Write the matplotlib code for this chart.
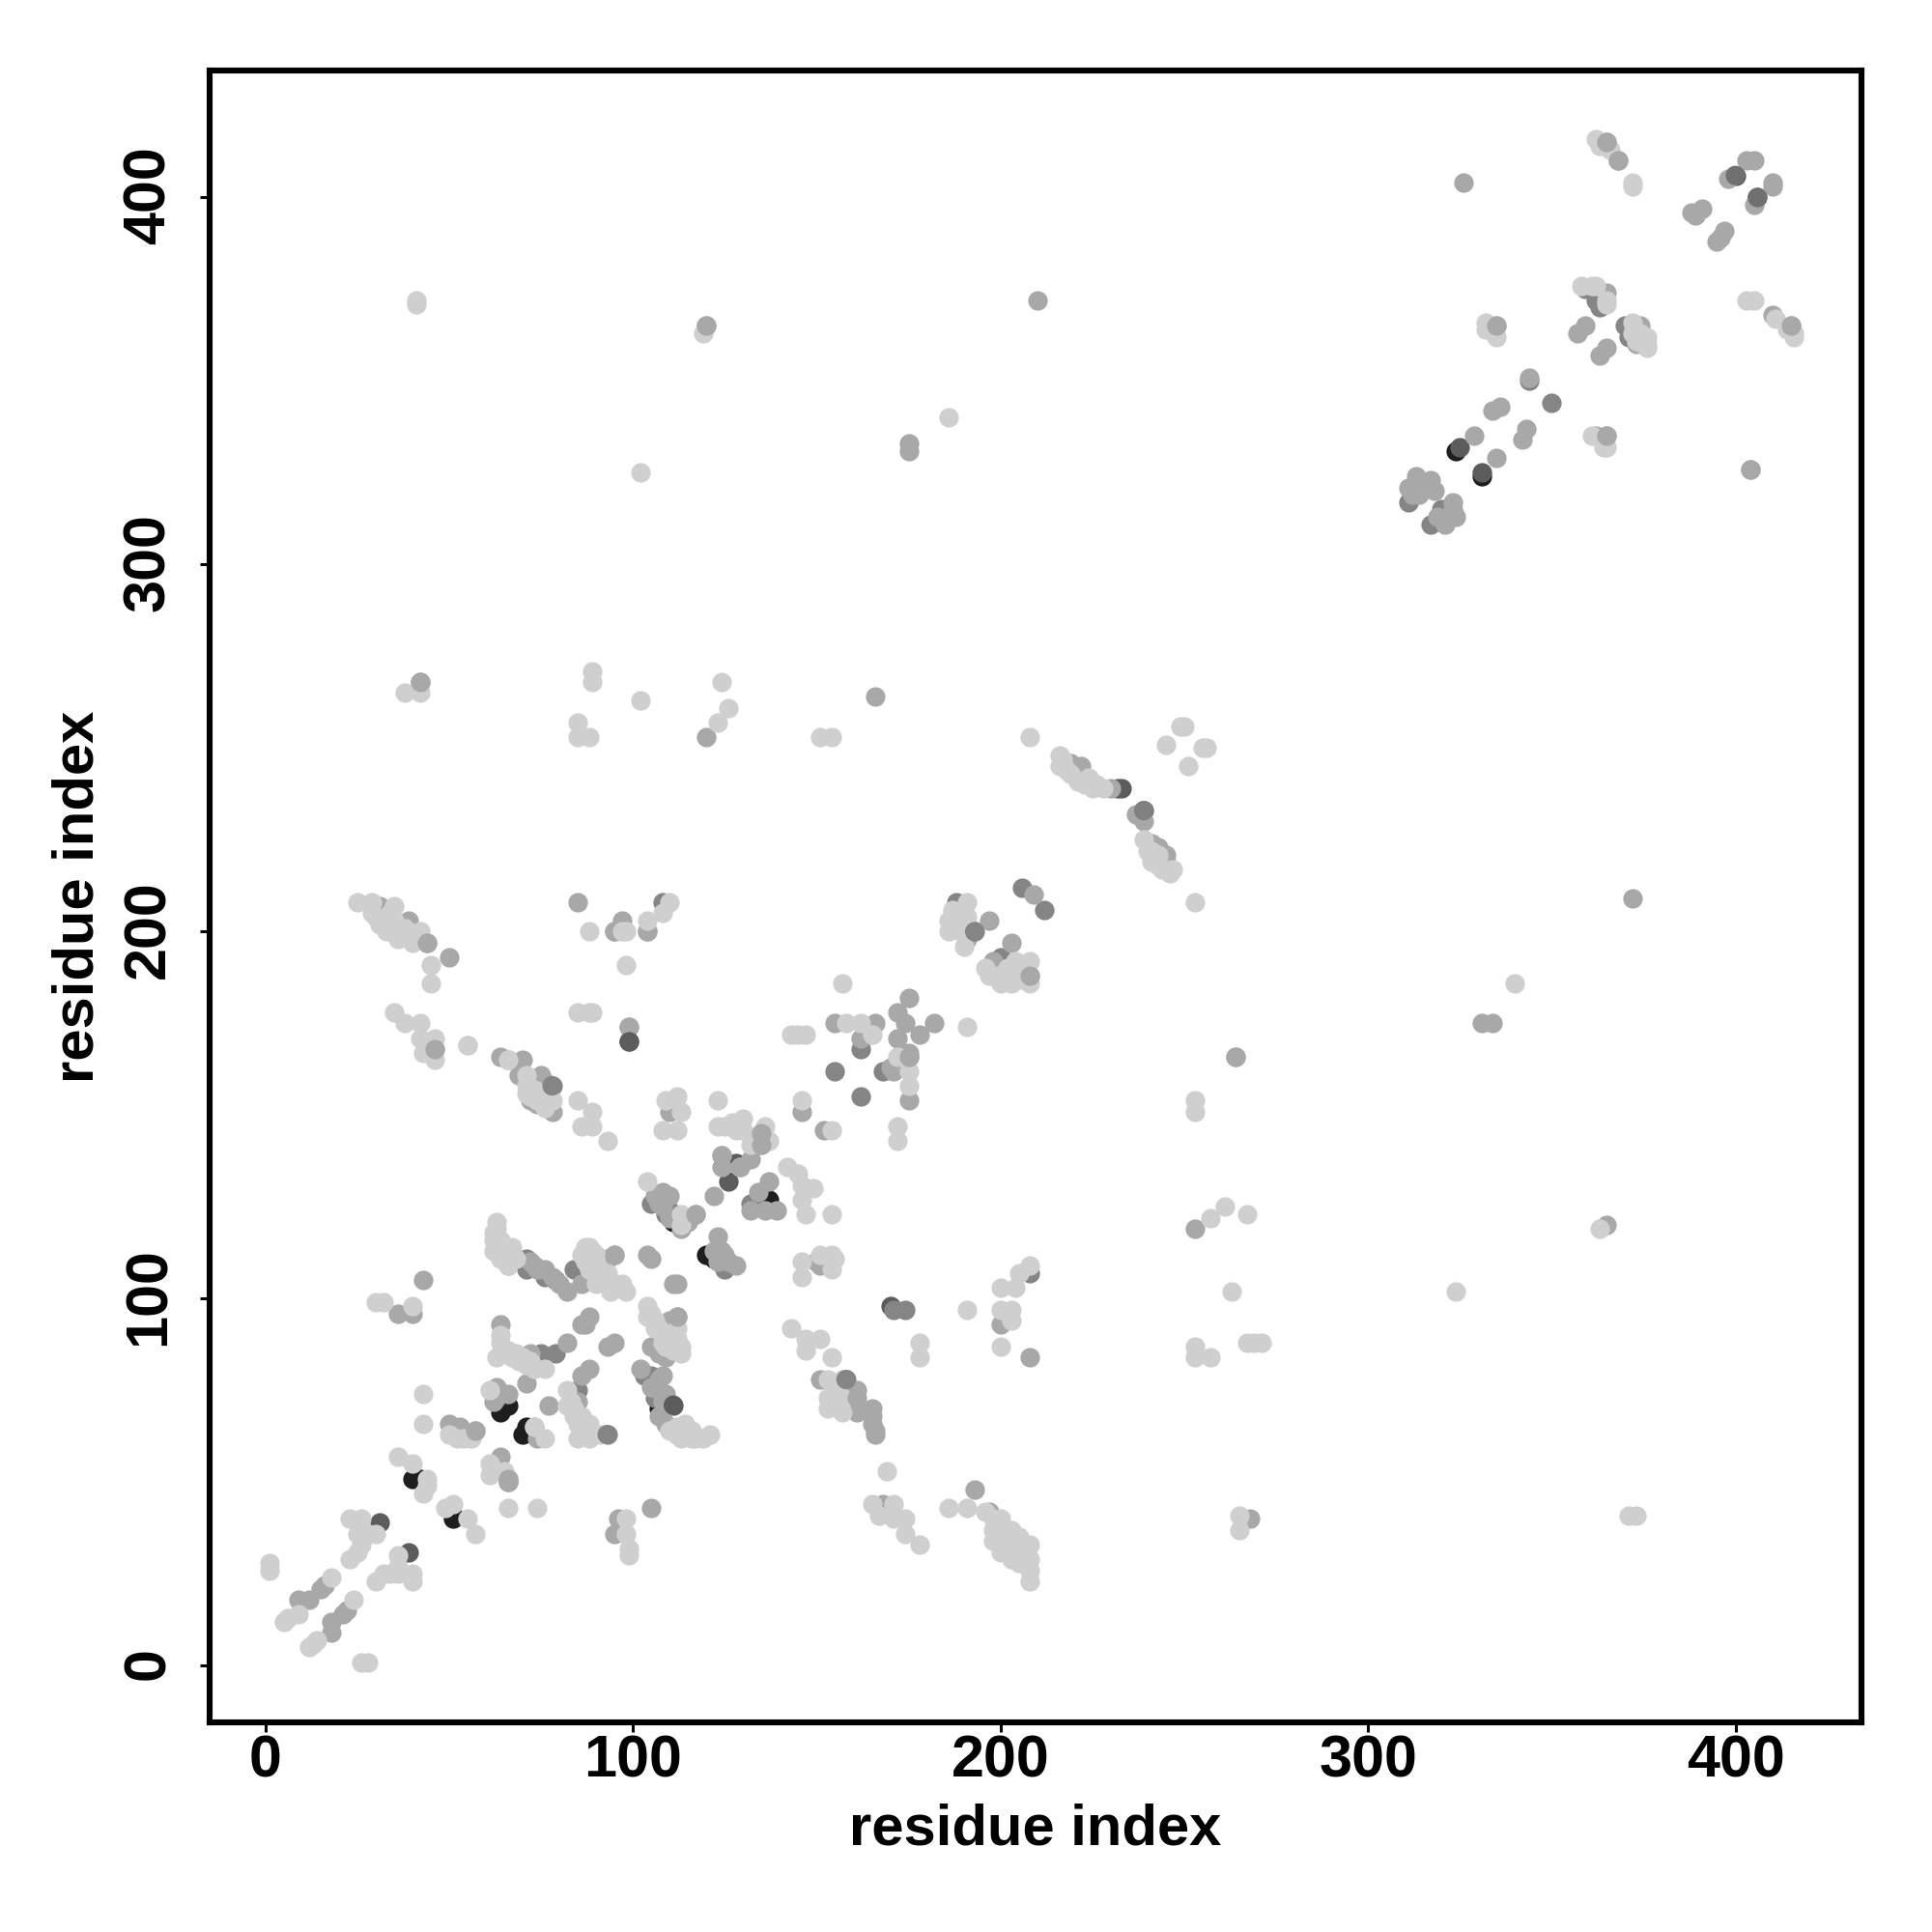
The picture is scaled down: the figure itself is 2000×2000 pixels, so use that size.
import matplotlib
matplotlib.use('Agg')
import matplotlib.pyplot as plt
from matplotlib.transforms import ScaledTranslation

black_x = [51, 51, 40, 42, 66, 64, 71, 70, 107, 111, 120, 122, 137, 324, 331]
black_y = [40, 41, 51, 51, 71, 69, 65, 63, 70, 121, 112, 111, 127, 331, 324]

dark2_x = [31, 39, 111, 99, 126, 128, 233, 239, 325, 331, 400, 406, 170, 232]
dark2_y = [39, 31, 71, 170, 132, 137, 239, 233, 332, 325, 406, 400, 98, 239]

dark_x = [63, 85, 93, 75, 79, 71, 71, 76, 79, 78, 84, 103, 105, 106, 105, 109, 110, 125, 132, 158, 155, 162, 168, 164,
          162, 108, 188, 193, 200, 206, 212, 174, 171, 359, 362, 363, 370, 371, 344, 350, 314, 311, 320, 317, 208]
dark_y = [73, 75, 63, 85, 85, 111, 108, 106, 105, 158, 108, 79, 79, 73, 126, 123, 124, 108, 126, 78, 162, 155, 162, 172,
          168, 208, 208, 200, 193, 212, 206, 97, 97, 375, 372, 370, 365, 362, 350, 344, 321, 317, 315, 311, 107]

mid_x = [18, 18, 22, 21, 9, 12, 16, 15, 36, 40, 96, 95, 105, 43, 64, 66, 66, 50, 53, 57, 62, 66, 71, 77, 73, 74, 88, 86, 85,
         102, 107, 109, 109, 112, 64, 72, 82, 86, 88, 93, 95, 112, 110, 105, 107, 109, 112, 111, 104, 105, 122, 123, 124, 128,
         95, 93, 86, 82, 73, 66, 108, 110, 117, 134, 137, 132, 139, 136, 124, 124, 129, 132, 135, 135, 110, 146, 152, 64, 66,
         70, 69, 75, 76, 72, 74, 78, 99, 170, 175, 172, 175, 172, 182, 178, 155, 166, 162, 171, 175, 175, 151, 151, 150, 161,
         154, 161, 165, 165, 166, 193, 197, 168, 268, 264, 253, 208, 200, 104, 95, 97, 42, 85, 31, 39, 46, 50, 44, 95, 104, 120,
         166, 326, 365, 368, 403, 405, 398, 410, 410, 405, 388, 391, 389, 397, 395, 396, 365, 335, 359, 357, 365, 363, 374, 373,
         410, 415, 344, 336, 334, 343, 342, 329, 335, 365, 362, 404, 313, 317, 311, 312, 323, 324, 321, 319, 219, 222, 230,
         237, 239, 241, 243, 245, 245, 197, 191, 203, 198, 208, 264, 331, 334, 365, 372, 210, 120, 175, 175, 404, 209,
         106, 107, 108, 112, 110, 115, 113, 125, 123, 126, 122, 74, 76, 78, 72, 80, 105, 107, 108, 107, 109, 108, 62, 63,
         316, 314, 318, 322, 323]
mid_y = [9, 12, 15, 14, 18, 18, 22, 21, 96, 96, 40, 36, 43, 105, 57, 51, 50, 66, 65, 64, 74, 74, 77, 71, 65, 62, 81, 79, 72,
         81, 78, 74, 66, 63, 93, 85, 88, 93, 95, 87, 88, 95, 94, 87, 85, 84, 104, 104, 112, 111, 128, 117, 113, 109,
         112, 111, 104, 102, 109, 109, 129, 128, 123, 129, 132, 124, 124, 124, 139, 136, 136, 138, 142, 145, 151, 151, 146, 166, 165,
         165, 161, 161, 159, 154, 153, 151, 174, 163, 167, 178, 154, 171, 175, 172, 175, 175, 171, 162, 166, 182, 78, 109, 110, 75,
         71, 69, 70, 66, 63, 48, 42, 44, 40, 166, 119, 84, 93, 200, 200, 203, 268, 208, 207, 203, 168, 193, 197, 200, 200, 253,
         264, 404, 415, 410, 410, 410, 405, 404, 403, 398, 396, 397, 395, 391, 388, 389, 374, 365, 365, 363, 359, 357, 365, 360,
         368, 365, 351, 343, 342, 337, 334, 335, 329, 335, 335, 326, 324, 323, 321, 319, 317, 313, 311, 313, 246, 245, 239,
         232, 230, 224, 223, 221, 219, 203, 198, 197, 192, 188, 166, 175, 175, 120, 209, 372, 365, 333, 331, 326, 210,
         128, 126, 125, 122, 122, 121, 119, 112, 110, 110, 113, 108, 108, 106, 110, 104, 76, 75, 72, 68, 70, 79, 72, 76,
         322, 319, 320, 313, 315]

light_x = [1, 1, 26, 28, 12, 14, 13, 6, 9, 5, 24, 18, 30, 32, 34, 36, 40, 40, 36, 36, 23, 25, 26, 25, 28, 30, 23, 26, 51, 49, 55, 57,
           44, 44, 43, 40, 36, 98, 98, 99, 99, 66, 74, 61, 61, 65, 43, 43, 52, 54, 50, 56, 61, 73, 76, 82, 82, 86, 88, 91, 85, 114, 116,
           116, 119, 121, 112, 64, 64, 66, 68, 71, 76, 63, 104, 104, 107, 108, 112, 113, 87, 89, 90, 90, 88, 93, 95, 97, 98, 63, 62, 64,
           67, 64, 66, 30, 32, 40, 104, 113, 113, 142, 145, 146, 149, 146, 147, 154, 130, 123, 128, 132, 123, 108, 112, 109, 112, 113,
           146, 154, 172, 172, 85, 89, 86, 89, 93, 55, 66, 71, 71, 78, 143, 145, 147, 158, 162, 165, 172, 175, 175, 154, 151, 155, 146,
           146, 154, 143, 147, 151, 147, 154, 153, 157, 157, 169, 186, 191, 196, 200, 203, 198, 198, 200, 203, 207, 208, 208, 165,
           171, 167, 171, 174, 174, 178, 157, 191, 208, 205, 200, 204, 200, 203, 203, 200, 178, 178, 253, 253, 257, 261, 267, 263,
           253, 253, 257, 267, 269, 271, 265, 265, 191, 362, 363, 366, 372, 372, 361, 362, 365, 365, 332, 335, 332, 372, 376, 376,
           403, 405, 411, 414, 416, 416, 361, 365, 364, 358, 38, 42, 89, 89, 102, 85, 85, 88, 124, 126, 123, 151, 154, 25, 29, 35, 29,
           32, 35, 36, 33, 42, 36, 40, 45, 45, 88, 98, 97, 104, 110, 108, 98, 35, 38, 42, 42, 46, 43, 46, 55, 85, 88, 89, 208, 216,
           216, 224, 225, 222, 239, 241, 241, 244, 247, 245, 249, 250, 251, 255, 256, 253, 191, 186, 186, 191, 190, 196, 204, 208,
           200, 203, 208, 340, 363, 324, 371, 373, 102, 186, 41, 41, 119,
           63, 62, 64, 66, 68, 62, 86, 87, 89, 90, 88, 91, 92, 94, 96, 90, 105, 106, 106, 108, 109, 111, 113, 110, 112,
           65, 67, 69, 73, 70, 72, 84, 85, 87, 89, 86, 88, 83, 84, 110, 112, 113, 117, 153, 155, 157, 155, 153,
           201, 203, 205, 206, 204, 207, 200, 198, 202, 208, 208, 205, 30, 31, 34, 37, 38, 34, 33, 40,
           217, 218, 219, 221, 223, 226, 228, 240, 241, 242, 243, 245, 246, 243, 372, 373, 375, 374, 376,
           197, 199, 201, 205, 206, 202, 204, 187, 188, 189, 187, 189, 125, 127, 130, 133, 136, 137, 71, 72, 74, 76, 73, 76]
light_y = [28, 26, 1, 1, 5, 7, 6, 13, 14, 12, 18, 24, 23, 25, 25, 25, 25, 23, 30, 27, 29, 31, 33, 36, 36, 36, 40, 40, 44, 43, 40, 36,
           51, 49, 47, 55, 57, 40, 36, 32, 30, 43, 43, 55, 52, 53, 66, 74, 62, 62, 63, 62, 75, 65, 62, 75, 71, 68, 66, 63, 62, 66, 64,
           62, 62, 63, 63, 90, 88, 86, 85, 82, 81, 84, 98, 95, 92, 90, 89, 87, 114, 113, 110, 106, 108, 107, 104, 104, 102, 121, 118, 116,
           114, 111, 109, 99, 99, 98, 132, 123, 120, 136, 134, 131, 130, 127, 123, 123, 149, 147, 146, 142, 154, 146, 146, 154, 155, 151,
           154, 146, 147, 143, 154, 151, 147, 147, 143, 169, 165, 161, 156, 154, 172, 172, 172, 175, 175, 172, 166, 162, 158, 108, 112, 111,
           110, 106, 112, 92, 89, 89, 86, 84, 78, 78, 69, 53, 43, 43, 42, 40, 37, 37, 34, 31, 29, 32, 26, 23, 44, 44, 41, 40, 40, 36, 33,
           186, 174, 109, 107, 103, 103, 97, 97, 94, 87, 88, 84, 154, 151, 122, 125, 123, 102, 87, 84, 84, 88, 88, 88, 41, 37, 97,
           416, 414, 413, 404, 403, 376, 376, 372, 371, 366, 362, 364, 366, 359, 362, 372, 372, 367, 364, 363, 362, 335, 332, 332, 376,
           265, 265, 271, 268, 263, 257, 253, 253, 268, 261, 257, 253, 253, 208, 208, 207, 205, 203, 203, 201, 200, 200, 198, 197, 191, 186,
           200, 191, 200, 203, 208, 205, 200, 178, 175, 175, 171, 171, 167, 165, 169, 178, 178, 178, 253, 248, 245, 242, 239, 241, 225,
           219, 222, 217, 217, 251, 256, 256, 245, 250, 250, 208, 208, 203, 200, 204, 196, 190, 192, 192, 186, 186, 186, 186, 119, 102,
           41, 41, 325, 340, 372, 371, 363,
           119, 116, 114, 112, 111, 113, 112, 110, 110, 112, 114, 108, 105, 102, 103, 104, 96, 94, 92, 88, 87, 86, 85, 90, 92,
           86, 84, 83, 81, 84, 83, 68, 66, 64, 63, 64, 62, 72, 70, 64, 65, 62, 62, 73, 72, 73, 74, 70,
           36, 35, 35, 30, 32, 30, 38, 40, 33, 33, 29, 28, 204, 202, 201, 199, 201, 205, 204, 199,
           247, 244, 243, 241, 240, 240, 239, 222, 221, 219, 218, 217, 216, 221, 363, 361, 360, 363, 360,
           188, 188, 187, 187, 189, 190, 189, 206, 204, 202, 202, 200, 147, 148, 146, 144, 147, 143, 158, 155, 154, 152, 157, 155]

# these sit on top of the light ones in the reference
top_mid_x = [42, 120, 117, 66, 66, 57, 335, 99, 112, 95, 87, 135, 135, 124, 129, 174, 175, 161, 165, 166, 208, 44, 46, 365, 368, 415, 365]
top_mid_y = [268, 365, 123, 51, 50, 64, 365, 174, 95, 112, 93, 142, 145, 139, 136, 175, 166, 73, 68, 64, 188, 197, 168, 415, 410, 365, 335]

top_dark_x = [93, 78, 158, 193, 239, 400, 406, 99, 111]
top_dark_y = [63, 158, 78, 200, 233, 406, 400, 170, 71]
top_dark_col = ['#858585', '#858585', '#858585', '#858585', '#808080', '#707070', '#707070', '#5c5c5c', '#5c5c5c']

gray_levels = [(black_x, black_y, '#1e1e1e'), (dark2_x, dark2_y, '#5c5c5c'), (dark_x, dark_y, '#858585'),
               (mid_x, mid_y, '#a8a8a8'), (light_x, light_y, '#cfcfcf'), (top_mid_x, top_mid_y, '#a8a8a8'),
               (top_dark_x, top_dark_y, top_dark_col)]

xticks = [0, 100, 200, 300, 400]

plt.rcParams['font.family'] = ['Liberation Sans', 'DejaVu Sans']
plt.rcParams['font.weight'] = 'bold'

fig = plt.figure(figsize=(10, 10), dpi=200)
ax = fig.add_axes([217 / 2000, 1 - 1783 / 2000, (1927 - 217) / 2000, (1783 - 73) / 2000])

for xs, ys, col in gray_levels:
    ax.scatter(xs, ys, s=53, c=col, linewidths=0)

ax.set_xlim(-15.2, 434.3)
ax.set_ylim(-15.4, 434.6)
ax.set_xticks(xticks)
ax.set_yticks(xticks)
ax.tick_params(axis='x', labelsize=22, width=1.1, length=3.6, pad=1)
ax.tick_params(axis='y', labelsize=22, width=1.1, length=3.6, pad=8.5, labelrotation=90)
nudge = ScaledTranslation(0, 2.5 / 200, fig.dpi_scale_trans)
for lab in ax.get_yticklabels():
    lab.set_va('center')
    lab.set_transform(lab.get_transform() + nudge)
for sp in ax.spines.values():
    sp.set_linewidth(2.2)
ax.set_xlabel('residue index', fontsize=21.5, fontweight='bold', labelpad=5)
ax.set_ylabel('residue index', fontsize=21.5, fontweight='bold', labelpad=6.5)

fig.savefig('out.png', dpi=200)
